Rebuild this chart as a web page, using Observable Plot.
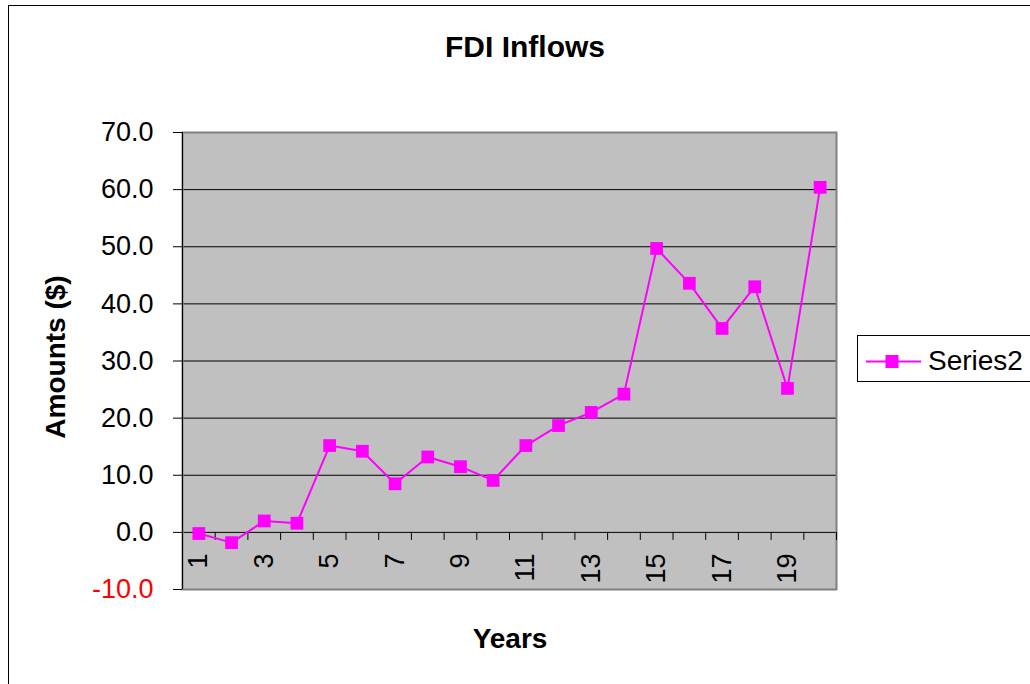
<!DOCTYPE html>
<html><head><meta charset="utf-8">
<script src="https://cdn.jsdelivr.net/npm/d3@7"></script>
<script src="https://cdn.jsdelivr.net/npm/@observablehq/plot@0.6"></script>
<style>body{margin:0;background:#fff;}</style>
</head><body><div id="chart"></div>
<script>
const years = [1,2,3,4,5,6,7,8,9,10,11,12,13,14,15,16,17,18,19,20];
const fdi = [-0.2,-1.8,2.0,1.6,15.2,14.2,8.5,13.2,11.5,9.1,15.2,18.7,21.0,24.2,49.7,43.6,35.7,43.0,25.2,60.4];
const yTicks = [-10,0,10,20,30,40,50,60,70];
const xTickLabels = [1,3,5,7,9,11,13,15,17,19];
const titleText = "FDI Inflows";
const yLabelText = "Amounts ($)";
const xLabelText = "Years";
const seriesName = "Series2";

const FONT = "'Liberation Sans', Arial, Helvetica, sans-serif";
const MAGENTA = "#FF00FF";
const data = years.map((year, i) => ({year, value: fdi[i]}));
const bounds = [years[0] - 0.5, ...years.map(y => y + 0.5)];

const plot = Plot.plot({
  width: 1030, height: 684,
  marginLeft: 182, marginRight: 194, marginTop: 132, marginBottom: 95,
  style: {fontFamily: FONT, fontSize: "27px", background: "#fff", color: "#000"},
  x: {domain: [years[0] - 0.5, years[years.length - 1] + 0.5], axis: null},
  y: {domain: [yTicks[0], yTicks[yTicks.length - 1]], axis: null},
  marks: [
    Plot.frame({fill: "#C0C0C0", stroke: "none"}),
    Plot.ruleY(yTicks.filter(d => d > yTicks[0] && d < yTicks[yTicks.length - 1]), {stroke: "#000", strokeWidth: 1}),
    Plot.frame({stroke: "#808080", strokeWidth: 2}),
    Plot.ruleX([bounds[0]], {stroke: "#000", strokeWidth: 1}),
    Plot.axisY({ticks: yTicks, tickFormat: d => d.toFixed(1), tickSize: 9, tickPadding: 20, fontSize: 27, label: null}),
    Plot.ruleX(bounds, {y1: 0, y2: 0, insetBottom: -8, stroke: "#000", strokeWidth: 1}),
    Plot.text(xTickLabels, {x: d => d, y: 0, text: d => String(d), rotate: -90, textAnchor: "end", dy: 21, fontSize: 27}),
    Plot.line(data, {x: "year", y: "value", stroke: MAGENTA, strokeWidth: 2}),
    Plot.dot(data, {x: "year", y: "value", symbol: "square", r: 7.2, fill: MAGENTA, stroke: "none"})
  ]
});

const svg = d3.select(plot);
svg.selectAll("text").filter(function() { return this.textContent === "-10.0"; }).attr("fill", "#FF0000");

svg.append("rect").attr("x", 8.5).attr("y", 5.5).attr("width", 1100).attr("height", 800)
  .attr("fill", "none").attr("stroke", "#000").attr("stroke-width", 1);

svg.append("text").attr("x", 525).attr("y", 57).attr("text-anchor", "middle")
  .attr("font-family", FONT).attr("font-weight", "bold").attr("font-size", 30).text(titleText);

svg.append("text").attr("transform", "translate(65,357) rotate(-90)").attr("text-anchor", "middle")
  .attr("font-family", FONT).attr("font-weight", "bold").attr("font-size", 28).text(yLabelText);

svg.append("text").attr("x", 510).attr("y", 648).attr("text-anchor", "middle")
  .attr("font-family", FONT).attr("font-weight", "bold").attr("font-size", 28).text(xLabelText);

const lg = svg.append("g");
lg.append("rect").attr("x", 857.5).attr("y", 335.5).attr("width", 200).attr("height", 46)
  .attr("fill", "#fff").attr("stroke", "#000").attr("stroke-width", 1);
lg.append("line").attr("x1", 866).attr("x2", 921).attr("y1", 361.5).attr("y2", 361.5)
  .attr("stroke", MAGENTA).attr("stroke-width", 2);
lg.append("rect").attr("x", 885.5).attr("y", 355).attr("width", 13).attr("height", 13).attr("fill", MAGENTA);
lg.append("text").attr("x", 928).attr("y", 370).attr("text-anchor", "start")
  .attr("font-family", FONT).attr("font-size", 28).text(seriesName);

document.getElementById("chart").appendChild(plot);
</script>
</body></html>
